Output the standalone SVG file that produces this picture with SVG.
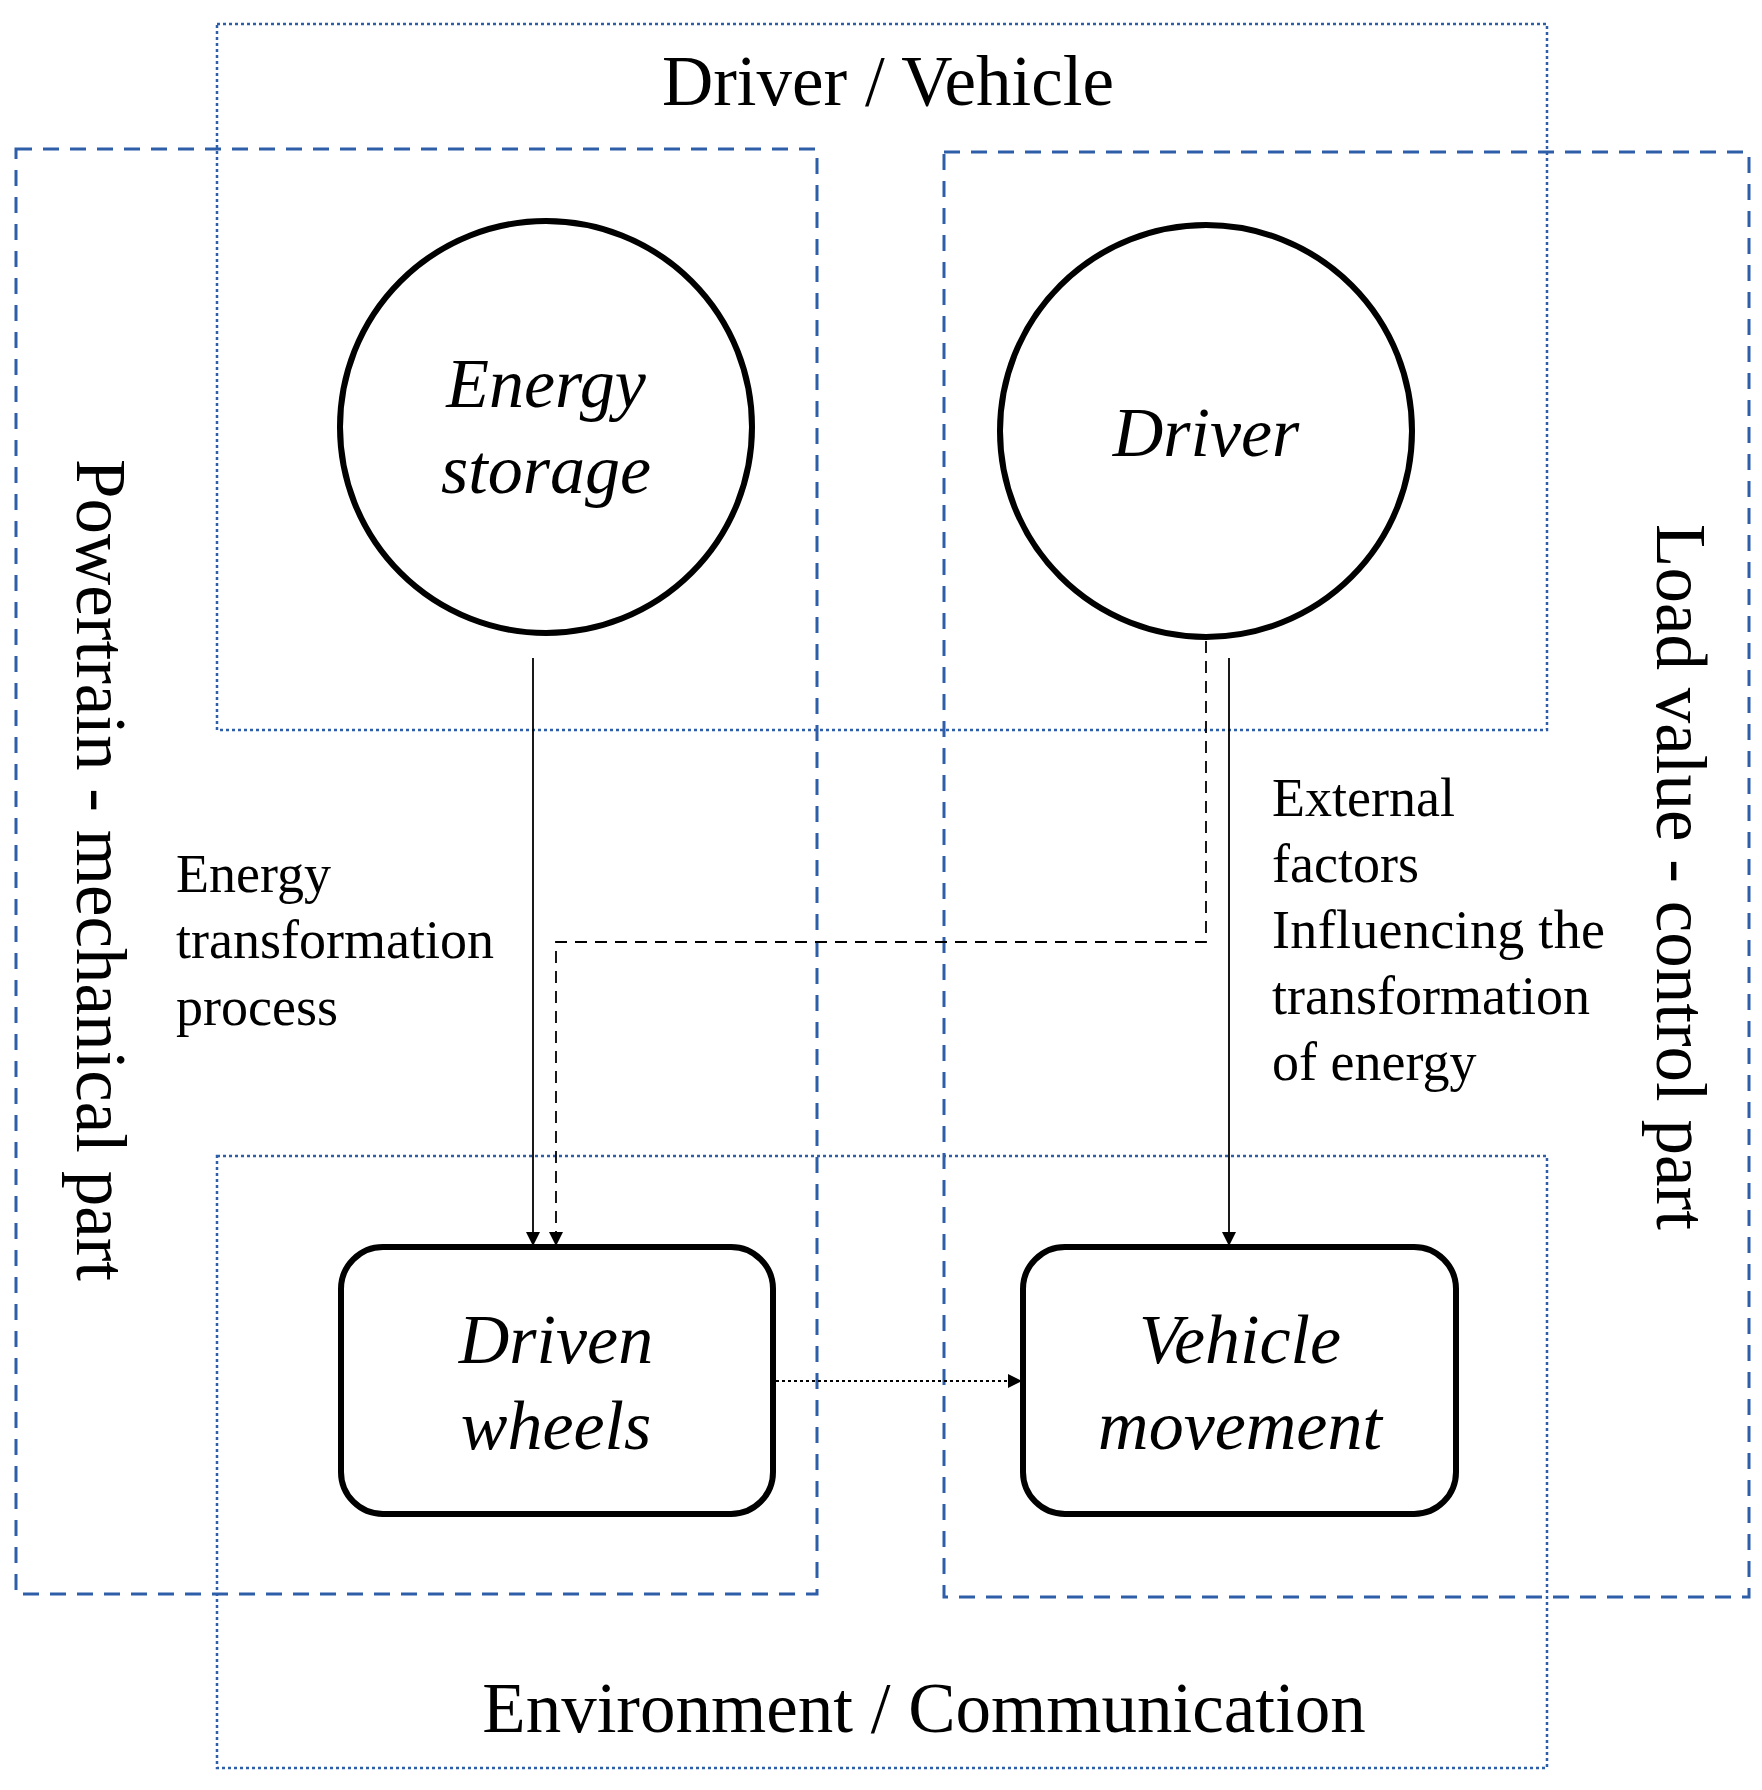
<svg xmlns="http://www.w3.org/2000/svg" width="1762" height="1790" viewBox="0 0 1762 1790">
<style>
.dot{fill:none;stroke:#2E5EA8;stroke-width:2.5;stroke-dasharray:3 3}
.dash{fill:none;stroke:#2E5EA8;stroke-width:3;stroke-dasharray:16 11}
.node{fill:#fff;stroke:#000;stroke-width:6}
.t{font-family:"Liberation Serif",serif;fill:#000}
.it{font-family:"Liberation Serif",serif;font-style:italic;font-size:70px;text-anchor:middle}
.c{stroke:#000;stroke-width:1.8;fill:none}
</style>
<defs>
<marker id="ah" markerWidth="14" markerHeight="14" refX="13" refY="7" orient="auto" markerUnits="userSpaceOnUse" viewBox="0 0 14 14"><path d="M0,0 L14,7 L0,14 z" fill="#000"/></marker>
</defs>
<g id="frames">
<rect class="dot" x="217" y="24" width="1330" height="706"/>
<rect class="dot" x="217" y="1156" width="1330" height="612"/>
<rect class="dash" x="16" y="149" width="801" height="1445"/>
<rect class="dash" x="944" y="152" width="805" height="1445"/>
</g>
<g id="labels" class="t">
<text x="888" y="105" font-size="71" text-anchor="middle">Driver / Vehicle</text>
<text x="924" y="1732" font-size="71" text-anchor="middle">Environment / Communication</text>
<text transform="translate(77,870) rotate(90)" font-size="71" text-anchor="middle">Powertrain - mechanical part</text>
<text transform="translate(1657,877) rotate(90)" font-size="71" text-anchor="middle">Load value - control part</text>
<text font-size="54"><tspan x="176" y="892">Energy</tspan><tspan x="176" y="958">transformation</tspan><tspan x="176" y="1025">process</tspan></text>
<text font-size="54"><tspan x="1272" y="816">External</tspan><tspan x="1272" y="882">factors</tspan><tspan x="1272" y="948" textLength="333" lengthAdjust="spacing">Influencing  the</tspan><tspan x="1272" y="1014">transformation</tspan><tspan x="1272" y="1080">of energy</tspan></text>
</g>
<g id="connectors">
<line class="c" x1="533" y1="658" x2="533" y2="1245" marker-end="url(#ah)"/>
<polyline class="c" stroke-width="2.5" stroke-dasharray="12 8" points="1206,641 1206,942 556,942 556,1245" marker-end="url(#ah)"/>
<line class="c" x1="1229" y1="658" x2="1229" y2="1245" marker-end="url(#ah)"/>
<line class="c" stroke-width="2.5" stroke-dasharray="3 3" x1="776" y1="1381" x2="1021" y2="1381" marker-end="url(#ah)"/>
</g>
<g id="energy-storage">
<circle class="node" cx="546" cy="427" r="206"/>
<text class="it"><tspan x="546" y="407">Energy</tspan><tspan x="546" y="493">storage</tspan></text>
</g>
<g id="driver">
<circle class="node" cx="1206" cy="431" r="206"/>
<text class="it" x="1206" y="456">Driver</text>
</g>
<g id="driven-wheels">
<rect class="node" x="341" y="1247" width="432" height="267" rx="42"/>
<text class="it"><tspan x="556" y="1363">Driven</tspan><tspan x="556" y="1449">wheels</tspan></text>
</g>
<g id="vehicle-movement">
<rect class="node" x="1023" y="1247" width="433" height="267" rx="42"/>
<text class="it"><tspan x="1240" y="1363">Vehicle</tspan><tspan x="1240" y="1449">movement</tspan></text>
</g>
</svg>
